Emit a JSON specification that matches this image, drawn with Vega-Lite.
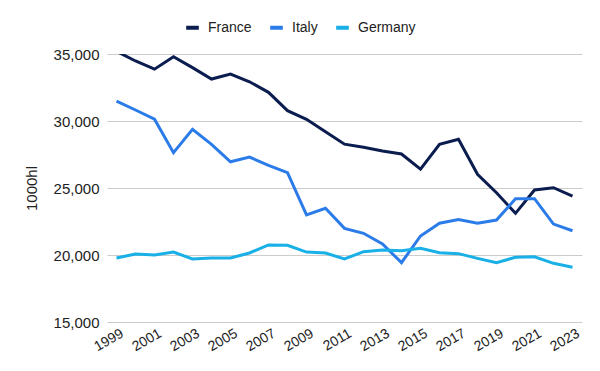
{
  "$schema": "https://vega.github.io/schema/vega-lite/v6.json",
  "autosize": "none",
  "width": 475,
  "height": 268,
  "padding": {"left": 107, "top": 54, "right": 18, "bottom": 49},
  "background": "white",
  "config": {
    "font": "Liberation Sans",
    "view": {"stroke": null},
    "axis": {"labelFont": "Liberation Sans", "titleFont": "Liberation Sans"}
  },
  "datasets": {
    "wine": [
      {"year": "1999", "country": "France", "value": 35200},
      {"year": "2000", "country": "France", "value": 34480},
      {"year": "2001", "country": "France", "value": 33870},
      {"year": "2002", "country": "France", "value": 34800},
      {"year": "2003", "country": "France", "value": 33980},
      {"year": "2004", "country": "France", "value": 33130},
      {"year": "2005", "country": "France", "value": 33500},
      {"year": "2006", "country": "France", "value": 32930},
      {"year": "2007", "country": "France", "value": 32140},
      {"year": "2008", "country": "France", "value": 30770},
      {"year": "2009", "country": "France", "value": 30130},
      {"year": "2010", "country": "France", "value": 29200},
      {"year": "2011", "country": "France", "value": 28270},
      {"year": "2012", "country": "France", "value": 28040},
      {"year": "2013", "country": "France", "value": 27760},
      {"year": "2014", "country": "France", "value": 27540},
      {"year": "2015", "country": "France", "value": 26400},
      {"year": "2016", "country": "France", "value": 28260},
      {"year": "2017", "country": "France", "value": 28630},
      {"year": "2018", "country": "France", "value": 26020},
      {"year": "2019", "country": "France", "value": 24650},
      {"year": "2020", "country": "France", "value": 23110},
      {"year": "2021", "country": "France", "value": 24850},
      {"year": "2022", "country": "France", "value": 25020},
      {"year": "2023", "country": "France", "value": 24400},
      {"year": "1999", "country": "Italy", "value": 31490},
      {"year": "2000", "country": "Italy", "value": 30820},
      {"year": "2001", "country": "Italy", "value": 30130},
      {"year": "2002", "country": "Italy", "value": 27640},
      {"year": "2003", "country": "Italy", "value": 29380},
      {"year": "2004", "country": "Italy", "value": 28260},
      {"year": "2005", "country": "Italy", "value": 26960},
      {"year": "2006", "country": "Italy", "value": 27310},
      {"year": "2007", "country": "Italy", "value": 26690},
      {"year": "2008", "country": "Italy", "value": 26140},
      {"year": "2009", "country": "Italy", "value": 22990},
      {"year": "2010", "country": "Italy", "value": 23490},
      {"year": "2011", "country": "Italy", "value": 21990},
      {"year": "2012", "country": "Italy", "value": 21620},
      {"year": "2013", "country": "Italy", "value": 20820},
      {"year": "2014", "country": "Italy", "value": 19430},
      {"year": "2015", "country": "Italy", "value": 21420},
      {"year": "2016", "country": "Italy", "value": 22370},
      {"year": "2017", "country": "Italy", "value": 22640},
      {"year": "2018", "country": "Italy", "value": 22370},
      {"year": "2019", "country": "Italy", "value": 22610},
      {"year": "2020", "country": "Italy", "value": 24200},
      {"year": "2021", "country": "Italy", "value": 24200},
      {"year": "2022", "country": "Italy", "value": 22310},
      {"year": "2023", "country": "Italy", "value": 21810},
      {"year": "1999", "country": "Germany", "value": 19780},
      {"year": "2000", "country": "Germany", "value": 20080},
      {"year": "2001", "country": "Germany", "value": 20000},
      {"year": "2002", "country": "Germany", "value": 20220},
      {"year": "2003", "country": "Germany", "value": 19700},
      {"year": "2004", "country": "Germany", "value": 19780},
      {"year": "2005", "country": "Germany", "value": 19780},
      {"year": "2006", "country": "Germany", "value": 20150},
      {"year": "2007", "country": "Germany", "value": 20750},
      {"year": "2008", "country": "Germany", "value": 20720},
      {"year": "2009", "country": "Germany", "value": 20220},
      {"year": "2010", "country": "Germany", "value": 20150},
      {"year": "2011", "country": "Germany", "value": 19700},
      {"year": "2012", "country": "Germany", "value": 20250},
      {"year": "2013", "country": "Germany", "value": 20370},
      {"year": "2014", "country": "Germany", "value": 20320},
      {"year": "2015", "country": "Germany", "value": 20500},
      {"year": "2016", "country": "Germany", "value": 20170},
      {"year": "2017", "country": "Germany", "value": 20100},
      {"year": "2018", "country": "Germany", "value": 19750},
      {"year": "2019", "country": "Germany", "value": 19430},
      {"year": "2020", "country": "Germany", "value": 19830},
      {"year": "2021", "country": "Germany", "value": 19870},
      {"year": "2022", "country": "Germany", "value": 19380},
      {"year": "2023", "country": "Germany", "value": 19080}
    ]
  },
  "data": {"name": "wine"},
  "mark": {"type": "line", "strokeWidth": 3, "clip": true, "strokeJoin": "miter"},
  "encoding": {
    "x": {
      "field": "year",
      "type": "ordinal",
      "scale": {"type": "point", "padding": 0.5},
      "axis": {
        "title": null,
        "values": ["1999","2001","2003","2005","2007","2009","2011","2013","2015","2017","2019","2021","2023"],
        "labelAngle": -30,
        "labelAlign": "right",
        "labelBaseline": "top",
        "labelFontSize": 14,
        "labelColor": "#222222",
        "labelOffset": 2,
        "labelPadding": 4,
        "ticks": false,
        "domain": false,
        "grid": false
      }
    },
    "y": {
      "field": "value",
      "type": "quantitative",
      "scale": {"domain": [15000, 35000], "nice": false, "zero": false},
      "axis": {
        "title": "1000hl",
        "titleFontSize": 15,
        "titleFontWeight": "normal",
        "titleColor": "#222222",
        "titlePadding": 14,
        "values": [15000, 20000, 25000, 30000, 35000],
        "format": ",d",
        "labelFontSize": 15,
        "labelColor": "#222222",
        "labelPadding": 8,
        "ticks": false,
        "domain": false,
        "grid": true,
        "gridColor": "#cccccc",
        "gridWidth": 1
      }
    },
    "color": {
      "field": "country",
      "type": "nominal",
      "sort": ["France", "Italy", "Germany"],
      "scale": {"domain": ["France", "Italy", "Germany"], "range": ["#0b1d4f", "#2b7ce9", "#18b0e6"]},
      "legend": {
        "title": null,
        "orient": "none",
        "direction": "horizontal",
        "legendX": 77,
        "legendY": -35,
        "symbolType": "stroke",
        "symbolStrokeWidth": 4,
        "symbolSize": 160,
        "labelFontSize": 14,
        "labelColor": "#222222",
        "columnPadding": 10,
        "labelOffset": 7
      }
    }
  }
}
